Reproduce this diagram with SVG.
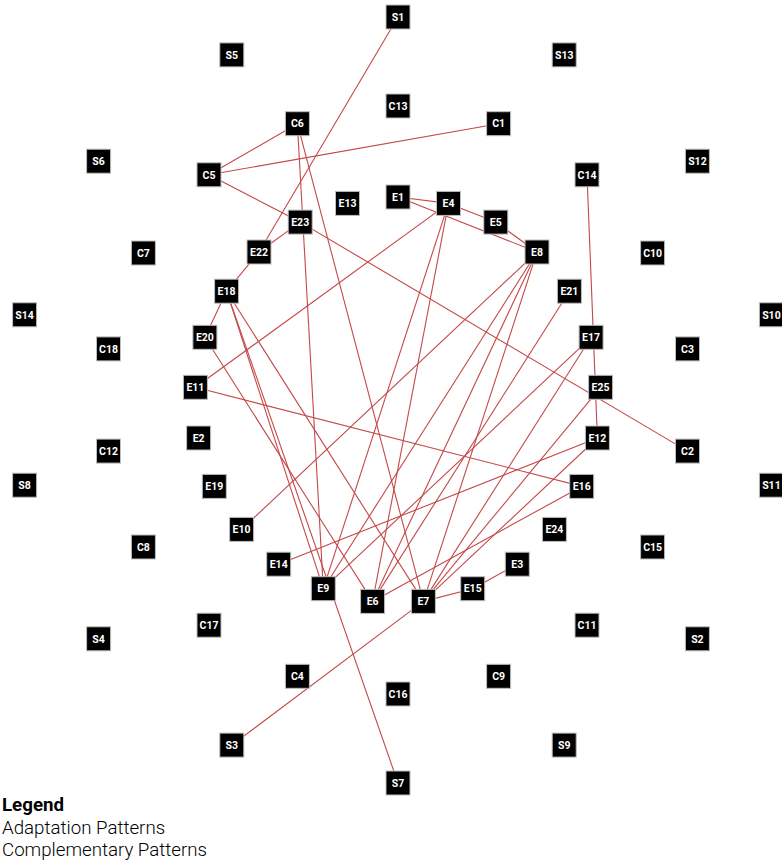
<svg xmlns="http://www.w3.org/2000/svg" width="782" height="863" viewBox="0 0 782 863">
<style>
.bg{fill:#ffffff}
.edge{stroke:#c44848;stroke-width:1.1;fill:none}
.node rect,.node use{fill:#000000;stroke:#bdbdbd;stroke-width:1}
.node text{fill:#ffffff;font-family:Roboto,"Liberation Sans",Arial,sans-serif;font-weight:700;font-size:10.5px;text-anchor:middle}
.lg{font-family:Roboto,"Liberation Sans",Arial,sans-serif;font-size:18.7px;fill:#000000}
</style>
<defs>
<rect id="box" x="-12" y="-12" width="24" height="24"/>
</defs>
<rect class="bg" x="0" y="0" width="782" height="863"/>
<g id="connectors">
<line class="edge" x1="398" y1="17" x2="259" y2="252"/>
<line class="edge" x1="259" y1="252" x2="226.6" y2="291.2"/>
<line class="edge" x1="226.6" y1="291.2" x2="204.9" y2="337.3"/>
<line class="edge" x1="259" y1="252" x2="300.2" y2="222.1"/>
<line class="edge" x1="297.4" y1="123.7" x2="209" y2="174.8"/>
<line class="edge" x1="209" y1="174.8" x2="498.6" y2="123.7"/>
<line class="edge" x1="209" y1="174.8" x2="300.2" y2="222.1"/>
<line class="edge" x1="300.2" y1="222.1" x2="687.5" y2="451.1"/>
<line class="edge" x1="297.4" y1="123.7" x2="323.3" y2="588.7"/>
<line class="edge" x1="297.4" y1="123.7" x2="423.4" y2="601.4"/>
<line class="edge" x1="226.6" y1="291.2" x2="323.3" y2="588.7"/>
<line class="edge" x1="226.6" y1="291.2" x2="398" y2="783"/>
<line class="edge" x1="226.6" y1="291.2" x2="423.4" y2="601.4"/>
<line class="edge" x1="204.9" y1="337.3" x2="372.6" y2="601.4"/>
<line class="edge" x1="195.4" y1="387.3" x2="448.5" y2="203.4"/>
<line class="edge" x1="195.4" y1="387.3" x2="581.7" y2="486.4"/>
<line class="edge" x1="398" y1="197" x2="448.5" y2="203.4"/>
<line class="edge" x1="398" y1="197" x2="537" y2="252"/>
<line class="edge" x1="448.5" y1="203.4" x2="495.8" y2="222.1"/>
<line class="edge" x1="495.8" y1="222.1" x2="537" y2="252"/>
<line class="edge" x1="448.5" y1="203.4" x2="323.3" y2="588.7"/>
<line class="edge" x1="448.5" y1="203.4" x2="372.6" y2="601.4"/>
<line class="edge" x1="537" y1="252" x2="241.6" y2="529.4"/>
<line class="edge" x1="537" y1="252" x2="323.3" y2="588.7"/>
<line class="edge" x1="537" y1="252" x2="372.6" y2="601.4"/>
<line class="edge" x1="537" y1="252" x2="423.4" y2="601.4"/>
<line class="edge" x1="569.4" y1="291.2" x2="372.6" y2="601.4"/>
<line class="edge" x1="587" y1="174.8" x2="597.4" y2="438"/>
<line class="edge" x1="591.1" y1="337.3" x2="323.3" y2="588.7"/>
<line class="edge" x1="591.1" y1="337.3" x2="423.4" y2="601.4"/>
<line class="edge" x1="600.6" y1="387.3" x2="423.4" y2="601.4"/>
<line class="edge" x1="597.4" y1="438" x2="278.7" y2="564.2"/>
<line class="edge" x1="597.4" y1="438" x2="423.4" y2="601.4"/>
<line class="edge" x1="581.7" y1="486.4" x2="372.6" y2="601.4"/>
<line class="edge" x1="472.7" y1="588.7" x2="517.3" y2="564.2"/>
<line class="edge" x1="472.7" y1="588.7" x2="423.4" y2="601.4"/>
<line class="edge" x1="231.8" y1="745.1" x2="423.4" y2="601.4"/>
</g>
<g id="nodes">
<g id="S1" class="node" transform="translate(398,17)"><use href="#box"/><text y="3.7">S1</text></g>
<g id="S13" class="node" transform="translate(564.2,54.9)"><use href="#box"/><text y="3.7">S13</text></g>
<g id="S12" class="node" transform="translate(697.4,161.2)"><use href="#box"/><text y="3.7">S12</text></g>
<g id="S10" class="node" transform="translate(771.4,314.8)"><use href="#box"/><text y="3.7">S10</text></g>
<g id="S11" class="node" transform="translate(771.4,485.2)"><use href="#box"/><text y="3.7">S11</text></g>
<g id="S2" class="node" transform="translate(697.4,638.8)"><use href="#box"/><text y="3.7">S2</text></g>
<g id="S9" class="node" transform="translate(564.2,745.1)"><use href="#box"/><text y="3.7">S9</text></g>
<g id="S7" class="node" transform="translate(398,783)"><use href="#box"/><text y="3.7">S7</text></g>
<g id="S3" class="node" transform="translate(231.8,745.1)"><use href="#box"/><text y="3.7">S3</text></g>
<g id="S4" class="node" transform="translate(98.6,638.8)"><use href="#box"/><text y="3.7">S4</text></g>
<g id="S8" class="node" transform="translate(24.6,485.2)"><use href="#box"/><text y="3.7">S8</text></g>
<g id="S14" class="node" transform="translate(24.6,314.8)"><use href="#box"/><text y="3.7">S14</text></g>
<g id="S6" class="node" transform="translate(98.6,161.2)"><use href="#box"/><text y="3.7">S6</text></g>
<g id="S5" class="node" transform="translate(231.8,54.9)"><use href="#box"/><text y="3.7">S5</text></g>
<g id="C13" class="node" transform="translate(398,106)"><use href="#box"/><text y="3.7">C13</text></g>
<g id="C1" class="node" transform="translate(498.6,123.7)"><use href="#box"/><text y="3.7">C1</text></g>
<g id="C14" class="node" transform="translate(587,174.8)"><use href="#box"/><text y="3.7">C14</text></g>
<g id="C10" class="node" transform="translate(652.6,253)"><use href="#box"/><text y="3.7">C10</text></g>
<g id="C3" class="node" transform="translate(687.5,348.9)"><use href="#box"/><text y="3.7">C3</text></g>
<g id="C2" class="node" transform="translate(687.5,451.1)"><use href="#box"/><text y="3.7">C2</text></g>
<g id="C15" class="node" transform="translate(652.6,547)"><use href="#box"/><text y="3.7">C15</text></g>
<g id="C11" class="node" transform="translate(587,625.2)"><use href="#box"/><text y="3.7">C11</text></g>
<g id="C9" class="node" transform="translate(498.6,676.3)"><use href="#box"/><text y="3.7">C9</text></g>
<g id="C16" class="node" transform="translate(398,694)"><use href="#box"/><text y="3.7">C16</text></g>
<g id="C4" class="node" transform="translate(297.4,676.3)"><use href="#box"/><text y="3.7">C4</text></g>
<g id="C17" class="node" transform="translate(209,625.2)"><use href="#box"/><text y="3.7">C17</text></g>
<g id="C8" class="node" transform="translate(143.4,547)"><use href="#box"/><text y="3.7">C8</text></g>
<g id="C12" class="node" transform="translate(108.5,451.1)"><use href="#box"/><text y="3.7">C12</text></g>
<g id="C18" class="node" transform="translate(108.5,348.9)"><use href="#box"/><text y="3.7">C18</text></g>
<g id="C7" class="node" transform="translate(143.4,253)"><use href="#box"/><text y="3.7">C7</text></g>
<g id="C5" class="node" transform="translate(209,174.8)"><use href="#box"/><text y="3.7">C5</text></g>
<g id="C6" class="node" transform="translate(297.4,123.7)"><use href="#box"/><text y="3.7">C6</text></g>
<g id="E1" class="node" transform="translate(398,197)"><use href="#box"/><text y="3.7">E1</text></g>
<g id="E4" class="node" transform="translate(448.5,203.4)"><use href="#box"/><text y="3.7">E4</text></g>
<g id="E5" class="node" transform="translate(495.8,222.1)"><use href="#box"/><text y="3.7">E5</text></g>
<g id="E8" class="node" transform="translate(537,252)"><use href="#box"/><text y="3.7">E8</text></g>
<g id="E21" class="node" transform="translate(569.4,291.2)"><use href="#box"/><text y="3.7">E21</text></g>
<g id="E17" class="node" transform="translate(591.1,337.3)"><use href="#box"/><text y="3.7">E17</text></g>
<g id="E25" class="node" transform="translate(600.6,387.3)"><use href="#box"/><text y="3.7">E25</text></g>
<g id="E12" class="node" transform="translate(597.4,438)"><use href="#box"/><text y="3.7">E12</text></g>
<g id="E16" class="node" transform="translate(581.7,486.4)"><use href="#box"/><text y="3.7">E16</text></g>
<g id="E24" class="node" transform="translate(554.4,529.4)"><use href="#box"/><text y="3.7">E24</text></g>
<g id="E3" class="node" transform="translate(517.3,564.2)"><use href="#box"/><text y="3.7">E3</text></g>
<g id="E15" class="node" transform="translate(472.7,588.7)"><use href="#box"/><text y="3.7">E15</text></g>
<g id="E7" class="node" transform="translate(423.4,601.4)"><use href="#box"/><text y="3.7">E7</text></g>
<g id="E6" class="node" transform="translate(372.6,601.4)"><use href="#box"/><text y="3.7">E6</text></g>
<g id="E9" class="node" transform="translate(323.3,588.7)"><use href="#box"/><text y="3.7">E9</text></g>
<g id="E14" class="node" transform="translate(278.7,564.2)"><use href="#box"/><text y="3.7">E14</text></g>
<g id="E10" class="node" transform="translate(241.6,529.4)"><use href="#box"/><text y="3.7">E10</text></g>
<g id="E19" class="node" transform="translate(214.3,486.4)"><use href="#box"/><text y="3.7">E19</text></g>
<g id="E2" class="node" transform="translate(198.6,438)"><use href="#box"/><text y="3.7">E2</text></g>
<g id="E11" class="node" transform="translate(195.4,387.3)"><use href="#box"/><text y="3.7">E11</text></g>
<g id="E20" class="node" transform="translate(204.9,337.3)"><use href="#box"/><text y="3.7">E20</text></g>
<g id="E18" class="node" transform="translate(226.6,291.2)"><use href="#box"/><text y="3.7">E18</text></g>
<g id="E22" class="node" transform="translate(259,252)"><use href="#box"/><text y="3.7">E22</text></g>
<g id="E23" class="node" transform="translate(300.2,222.1)"><use href="#box"/><text y="3.7">E23</text></g>
<g id="E13" class="node" transform="translate(347.5,203.4)"><use href="#box"/><text y="3.7">E13</text></g>
</g>
<g id="legend">
<text class="lg" x="2" y="811" font-weight="700">Legend</text>
<text class="lg" x="2" y="834" font-weight="300">Adaptation Patterns</text>
<text class="lg" x="2" y="856" font-weight="300">Complementary Patterns</text>
</g>
</svg>
